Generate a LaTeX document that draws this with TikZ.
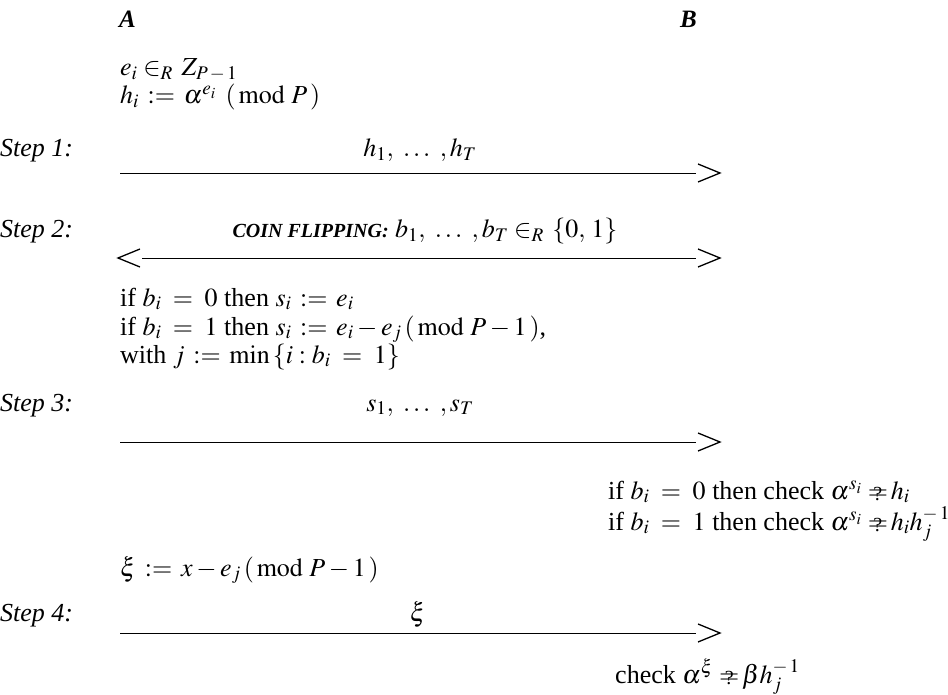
\documentclass[tikz,border=0pt]{standalone}
\usepackage{mathptmx}
\usepackage{fontspec}
\setmainfont{Liberation Serif}
\newcommand{\qeq}{\mathord{\ooalign{$=$\cr\hidewidth\raisebox{-0.1ex}{\fontsize{20}{20}\selectfont ?}\hidewidth\cr}}}
\newcommand{\sep}{\ \ldots\ }
\begin{document}
\begin{tikzpicture}[x=1pt,y=-1pt,
  txt/.style={inner sep=0pt,anchor=base west,font=\fontsize{26}{29}\selectfont},
  lbl/.style={inner sep=0pt,anchor=base,font=\fontsize{26}{29}\selectfont},
  steplbl/.style={inner sep=0pt,anchor=base west,font=\fontsize{26}{29}\selectfont\itshape},
  party/.style={inner sep=0pt,anchor=base west,font=\fontsize{25}{29}\selectfont\bfseries\itshape},
  msg/.style={line width=0.9pt},
  chev/.style={line width=1.3pt}]
\useasboundingbox (0,0) rectangle (948,695);
% parties
\node[party] (pa) at (119,28) {A};
\node[party] (pb) at (680,28) {B};
\node[txt] (l1) at (120,76) {$e_i \in_R \,Z_{P\,-\,1}$};
\node[txt] (l2) at (120,104) {$h_i \,:=\, \alpha^{e_i}\ \,(\,\mathrm{mod}\ P\,)$};
% step 1
\node[steplbl] (s1) at (0,157) {Step 1:};
\node[lbl] (m1) at (420,157) {$h_1,\sep,h_T$};
\coordinate (a1s) at (120,173); \coordinate (a1e) at (696,173);
\draw[msg] (a1s) -- (a1e);
\draw[chev] ([shift={(2,-9)}]a1e) -- ([shift={(24,0)}]a1e) -- ([shift={(2,9)}]a1e);
% step 2
\node[steplbl] (s2) at (0,238) {Step 2:};
\node[lbl] (m2) at (425,238) {{\fontsize{20}{24}\selectfont\bfseries\itshape COIN FLIPPING:} $b_1,\sep,b_T \in_R \,\{0,\,1\}$};
\coordinate (a2s) at (142,258); \coordinate (a2e) at (696,258);
\draw[msg] (a2s) -- (a2e);
\draw[chev] ([shift={(2,-9)}]a2e) -- ([shift={(24,0)}]a2e) -- ([shift={(2,9)}]a2e);
\draw[chev] ([shift={(-2,-9)}]a2s) -- ([shift={(-24,0)}]a2s) -- ([shift={(-2,9)}]a2s);
\node[txt] (l3) at (120,306) {if $b_i\;=\;0$ then $s_i \,:=\, e_i$};
\node[txt] (l4) at (120,335) {if $b_i\;=\;1$ then $s_i \,:=\, e_i - e_j\,(\,\mathrm{mod}\ P - 1\,)$,};
\node[txt] (l5) at (120,363) {with $j \,:=\, \min\,\{i : b_i\;=\;1\}$};
% step 3
\node[steplbl] (s3) at (0,411) {Step 3:};
\node[lbl] (m3) at (420,411) {$s_1,\sep,s_T$};
\coordinate (a3s) at (120,442); \coordinate (a3e) at (696,442);
\draw[msg] (a3s) -- (a3e);
\draw[chev] ([shift={(2,-9)}]a3e) -- ([shift={(24,0)}]a3e) -- ([shift={(2,9)}]a3e);
\node[txt] (r1) at (608,499) {if $b_i\;=\;0$ then check $\alpha^{s_i}\;\qeq\, h_i$};
\node[txt] (r2) at (608,530) {if $b_i\;=\;1$ then check $\alpha^{s_i}\;\qeq\, h_ih_j^{-\,1}$};
\node[txt] (l6) at (120,576) {$\xi \,:=\, x - e_j\,(\,\mathrm{mod}\ P - 1\,)$};
% step 4
\node[steplbl] (s4) at (0,621) {Step 4:};
\node[lbl] (m4) at (418,621) {$\xi$};
\coordinate (a4s) at (120,633); \coordinate (a4e) at (696,633);
\draw[msg] (a4s) -- (a4e);
\draw[chev] ([shift={(2,-9)}]a4e) -- ([shift={(24,0)}]a4e) -- ([shift={(2,9)}]a4e);
\node[txt] (r3) at (615,683) {check $\alpha^{\xi}\;\qeq\,\beta h_j^{-\,1}$};
\end{tikzpicture}
\end{document}
